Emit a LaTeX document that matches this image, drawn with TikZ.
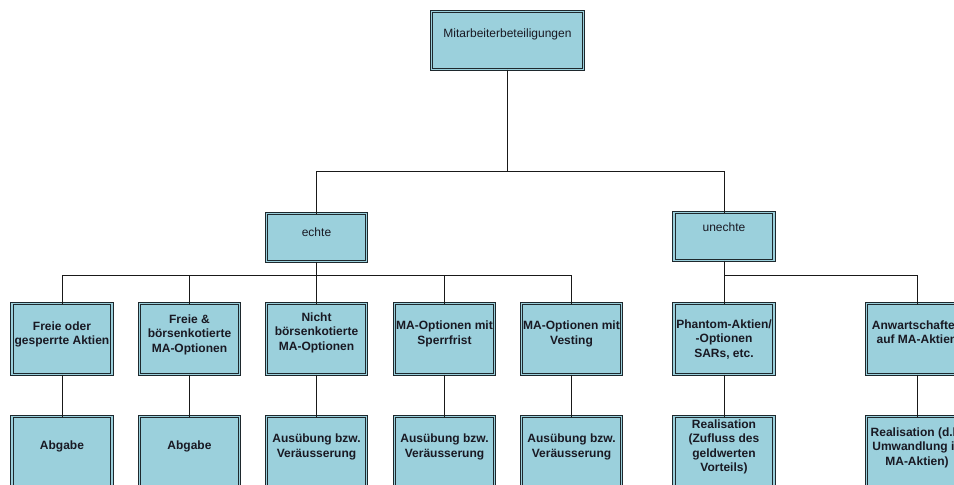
\documentclass[tikz,border=0pt]{standalone}
\usepackage{fontspec}
\setmainfont{Liberation Sans}
\definecolor{boxfill}{RGB}{155,208,220}
\definecolor{boxedge}{RGB}{30,40,45}
\definecolor{txtcol}{RGB}{25,25,35}
\begin{document}
\begin{tikzpicture}[x=1pt,y=-1pt,
  box/.style={draw=boxedge, line width=1pt, double=boxfill, double distance=1.5pt,
    fill=boxfill, inner sep=0pt, outer sep=0pt},
  top/.style={box, minimum width=152pt, minimum height=58pt},
  mid/.style={box, minimum width=100pt, minimum height=48pt},
  lvl/.style={box, minimum width=100pt, minimum height=71pt},
  bot/.style={box, minimum width=100pt, minimum height=82pt},
  txt/.style={align=center, text=txtcol, inner sep=0pt, font=\fontsize{12}{14.5}\selectfont},
  btxt/.style={txt, font=\bfseries\fontsize{12}{14.5}\selectfont},
  conn/.style={draw=black!90, line width=0.8pt}
]
\useasboundingbox (0,0) rectangle (954,485);
\clip (0,0) rectangle (954,485);

% boxes
\node[top] (root) at (507.5,40.5) {};
\node[mid] (echte) at (316.5,237.5) {};
\node[mid] (unechte) at (724,236.5) {};

\node[lvl] (b1) at (62,339) {};
\node[lvl] (b2) at (189.5,339) {};
\node[lvl] (b3) at (316.5,339) {};
\node[lvl] (b4) at (444.5,339) {};
\node[lvl] (b5) at (571.5,339) {};
\node[lvl] (b6) at (724,339) {};
\node[lvl, minimum width=101pt] (b7) at (917,339) {};

\node[bot] (c1) at (62,457.5) {};
\node[bot] (c2) at (189.5,457.5) {};
\node[bot] (c3) at (316.5,457.5) {};
\node[bot] (c4) at (444.5,457.5) {};
\node[bot] (c5) at (571.5,457.5) {};
\node[bot] (c6) at (724,457.5) {};
\node[bot, minimum width=101pt] (c7) at (917,457.5) {};

% texts
\node[txt] (troot) at (507.5,34.5) {Mitarbeiterbeteiligungen};
\node[txt] (techte) at (316.5,232.5) {echte};
\node[txt] (tunechte) at (724,227.5) {unechte};

\node[btxt] (t1) at (62,334.5) {Freie oder\\gesperrte Aktien};
\node[btxt] (t2) at (189.5,334.5) {Freie \&\\börsenkotierte\\MA-Optionen};
\node[btxt] (t3) at (316.5,332.5) {Nicht\\börsenkotierte\\MA-Optionen};
\node[btxt] (t4) at (444.5,334) {MA-Optionen mit\\Sperrfrist};
\node[btxt] (t5) at (571.5,334) {MA-Optionen mit\\Vesting};
\node[btxt] (t6) at (724,339.5) {Phantom-Aktien/\\-Optionen\\SARs, etc.};
\node[btxt] (t7) at (917,332) {Anwartschaften\\auf MA-Aktien};

\node[btxt] (u1) at (62,446.5) {Abgabe};
\node[btxt] (u2) at (189.5,446.5) {Abgabe};
\node[btxt] (u3) at (316.5,447) {Ausübung bzw.\\Veräusserung};
\node[btxt] (u4) at (444.5,447) {Ausübung bzw.\\Veräusserung};
\node[btxt] (u5) at (571.5,447) {Ausübung bzw.\\Veräusserung};
\node[btxt] (u6) at (724,447) {Realisation\\(Zufluss des\\geldwerten\\Vorteils)};
\node[btxt] (u7) at (917,447.5) {Realisation (d.h.\\Umwandlung in\\MA-Aktien)};

% junctions
\coordinate (j0) at (507.5,171);
\coordinate (j1) at (316.5,275);
\coordinate (j2) at (724,275);

% connectors
\draw[conn] (root.south) -- (j0);
\draw[conn] (j0) -| (echte.north);
\draw[conn] (j0) -| (unechte.north);

\draw[conn] (echte.south) -- (j1);
\draw[conn] (j1) -| (b1.north);
\draw[conn] (j1) -| (b2.north);
\draw[conn] (j1) -- (b3.north);
\draw[conn] (j1) -| (b4.north);
\draw[conn] (j1) -| (b5.north);

\draw[conn] (unechte.south) -- (j2);
\draw[conn] (j2) -- (b6.north);
\draw[conn] (j2) -| (b7.north);

\draw[conn] (b1.south) -- (c1.north);
\draw[conn] (b2.south) -- (c2.north);
\draw[conn] (b3.south) -- (c3.north);
\draw[conn] (b4.south) -- (c4.north);
\draw[conn] (b5.south) -- (c5.north);
\draw[conn] (b6.south) -- (c6.north);
\draw[conn] (b7.south) -- (c7.north);
\end{tikzpicture}
\end{document}
